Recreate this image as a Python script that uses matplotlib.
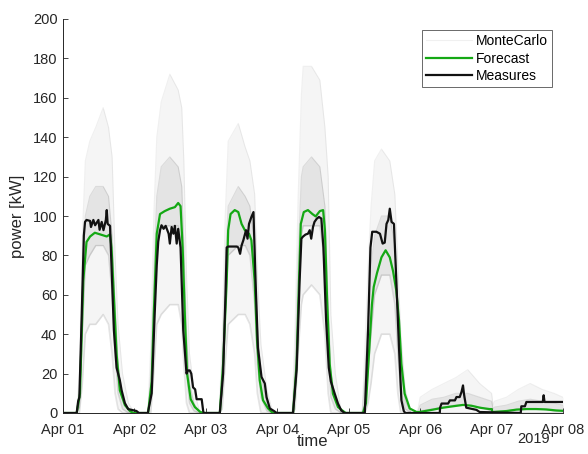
import numpy as np
import pandas as pd
import matplotlib
matplotlib.use('Agg')
import matplotlib.pyplot as plt
import matplotlib.dates as mdates

plt.rcParams['font.family'] = ['Liberation Sans', 'DejaVu Sans']
plt.rcParams['font.size'] = 10

start = pd.Timestamp('2019-04-01')

# forecast (hours since Apr 01 00:00, kW)
fc_hours = [0, 4.6, 5.7, 6.8, 7.9, 9.1, 10.7, 12.4, 14.7, 15.8, 16.3, 17.1, 18.0, 19.1, 20.8, 22.5, 23.6,
            28.6, 29.8, 30.5, 31.5, 32.6, 34.2, 35.9, 37.6, 38.7, 39.5, 40.2, 41.0, 41.7, 42.9, 44.3, 46.0, 47,
            52.7, 53.8, 55.0, 55.5, 56.3, 57.7, 58.9, 60.0, 61.1, 62.5, 63.3, 64.4, 65.2, 66.1, 67.2, 68.9, 70.5,
            77.3, 78.5, 79.3, 79.9, 80.9, 82.3, 83.8, 84.9, 86.3, 87.4, 88.0, 88.7, 89.6, 90.7, 92.4, 94.1, 95,
            100.8, 101.8, 102.8, 103.8, 104.4, 105.5, 107.0, 108.4, 109.8, 110.9, 112.0, 112.9, 113.7, 114.8,
            116.5, 118.8, 119.8,
            124.3, 127.7, 131.0, 134.4, 137.2, 140.0, 143.3, 144.0, 144.3, 149.0, 152.3, 155.7, 159.0, 162.4,
            165.7, 168]
fc_kw = [0, 0, 9.8, 67, 86.8, 89.6, 91.5, 90.7, 89.6, 90.7, 84, 58.9, 30, 11.5, 4, 1, 0,
         0, 16, 50, 91, 101, 102.5, 103.7, 104.5, 106.6, 105, 84, 47, 20, 7, 3, 0.7, 0,
         0, 25, 67, 92.8, 101, 103, 102, 96, 92.8, 91, 87.7, 67, 37, 16.6, 6.5, 2.3, 0,
         0, 25, 67, 96, 102, 103, 101, 99.8, 102.5, 103, 92.8, 59, 25, 9.8, 3, 1, 0,
         0, 5, 30, 55, 64, 71, 79, 82.6, 79, 72, 62, 47, 25, 9.8,
         2.3, 0.5, 0.5,
         1.7, 2.7, 3.4, 4.1, 3.7, 2.7, 2, 2, 0.5, 1, 1.7, 2, 2, 1.8,
         1.3, 1.1]

# measures
ms_hours = [0, 4.6, 5.1, 5.5, 6.3, 7.0, 7.4, 7.9, 9.1, 9.4, 10.2, 10.8, 11.9, 12.3, 13.0, 13.6, 14.4, 14.7,
            15.0, 15.8, 16.3, 17.1, 18.0, 19.1, 19.7, 20.8, 21.9, 24.7, 25.5,
            28.5, 29.8, 30.8, 31.5, 32.0, 32.6, 33.1, 33.8, 34.5, 35.5, 35.9, 36.5, 37.1, 37.6, 38.2, 38.7,
            39.5, 40.4, 41.5, 42.0, 42.6, 43.1, 43.7, 44.4, 44.9, 46.6, 47.1, 47.3,
            52.7, 53.8, 54.6, 55.0, 55.5, 58.4, 58.9, 59.5, 60.0, 60.6, 61.5, 62.0, 62.5, 63.3, 64.0, 64.7,
            65.5, 66.7, 67.8, 68.4, 69.5, 70.9, 71.8,
            77.3, 78.5, 79.5, 80.1, 80.6, 81.5, 82.3, 82.9, 83.4, 84.0, 84.5, 85.3, 86.0, 86.8, 87.5, 88.4,
            89.3, 90.0, 91.3, 92.4, 93.5, 94.6,
            101.4, 102.5, 103.3, 103.9, 105.3, 106.5, 107.4, 108.1, 108.7, 109.3, 109.8, 110.4, 111.2, 112.0,
            112.9, 113.7, 114.5, 115,
            126.6, 126.7, 127.2, 129.4, 130.0, 131.7, 132.2, 133.3, 133.9, 134.4, 134.7, 134.9, 135.5, 138.9,
            140.0, 153.8, 154.0, 155.2, 155.7, 161.2, 161.5, 161.8, 168]
ms_kw = [0, 0, 6, 8, 50, 90, 97, 98, 97.5, 94.4, 98, 95.3, 98, 93, 97, 92.8, 98, 103,
         96, 95, 75, 42, 23, 16.6, 11.5, 5, 2, 1, 0,
         0, 10, 50, 75, 87, 92.8, 95.3, 93.5, 95, 91, 86, 94.4, 91, 95, 86, 93.5,
         84, 42, 20, 21.6, 21.6, 20, 13, 12, 7, 7, 1, 0,
         0, 20, 60, 84, 84.5, 84.5, 84, 80.8, 85, 87.7, 92.8, 88.5, 96, 99.5, 102, 67,
         33, 18.3, 15, 8, 2.3, 1, 0,
         0, 22, 67, 88.5, 89.5, 90.6, 91, 92.8, 88.5, 94.4, 97, 98.7, 99.5, 98.7, 84, 47,
         23, 16, 9.8, 4.8, 1.3, 0,
         0, 42, 84, 92, 92, 91, 86, 86.5, 96, 98, 103.7, 97, 96, 67,
         33, 6.5, 1, 0,
         0, 2.7, 4.8, 4.8, 6.4, 6.4, 8.1, 8.1, 10.7, 14, 10, 8, 2.7, 1.6,
         0.5, 0, 3.4, 3.4, 5.6, 5.6, 9, 5.6, 5.6]

# monte carlo spread (envelope and inner band)
mc_hours = [0, 4.5, 5.5, 6.5, 7.5, 9, 11, 13.5, 15.3, 16.5, 17.5, 18.5, 20, 22, 24,
            28.5, 29.5, 30.5, 31.5, 33, 35.9, 38.7, 39.9, 40.6, 41.5, 42.5, 44, 46,
            52.5, 53.5, 54.5, 55.5, 58.9, 61.2, 62.8, 64.4, 65.3, 66.5, 68.5, 70.5,
            77, 78, 79, 80.1, 80.7, 83.5, 86.3, 88.0, 89.1, 90, 91.5, 93.5,
            100.5, 101.5, 102.5, 103.5, 104.7, 107, 109.8, 111.5, 112.5, 113.5, 115, 117,
            119, 120, 124, 128, 132, 136, 140, 144, 144.5, 145, 149, 153, 157, 161, 165, 168]
mc_low = [0, 0, 0, 15, 40, 45, 45, 50, 45, 30, 10, 2, 0, 0, 0,
          0, 0, 20, 45, 50, 55, 55, 45, 25, 5, 0, 0, 0,
          0, 2, 25, 45, 50, 50, 45, 30, 10, 0, 0, 0,
          0, 2, 30, 55, 60, 65, 60, 40, 10, 0, 0, 0,
          0, 0, 5, 15, 30, 40, 40, 30, 10, 0, 0, 0,
          0, 0, 0, 0, 0, 0, 0, 0, 0, 0, 0, 0, 0, 0, 0, 0]
mc_q1 = [0, 0, 3, 40, 75, 80, 85, 85, 80, 60, 30, 10, 2, 0, 0,
         0, 8, 45, 85, 95, 95, 95, 85, 55, 20, 5, 1, 0,
         0, 10, 50, 80, 85, 85, 80, 55, 25, 8, 1, 0,
         0, 10, 55, 90, 95, 95, 95, 75, 30, 8, 2, 0,
         0, 5, 20, 40, 60, 70, 70, 55, 30, 10, 2, 0,
         0, 1, 2, 3, 4, 4, 3, 1, 0, 0, 1, 2, 2, 2, 1, 1]
mc_q3 = [0, 0, 10, 65, 100, 110, 115, 115, 110, 90, 55, 25, 8, 1, 0,
         0, 20, 70, 110, 125, 130, 125, 115, 85, 40, 15, 5, 0,
         0, 25, 75, 105, 115, 110, 105, 85, 45, 20, 5, 0,
         0, 25, 80, 120, 125, 130, 125, 105, 55, 20, 8, 0,
         0, 20, 50, 75, 90, 100, 100, 85, 55, 25, 6, 0,
         0, 4, 7, 8, 10, 10, 8, 6, 2, 3, 4, 6, 7, 6, 5, 4]
mc_high = [0, 0, 20, 90, 128, 138, 145, 155, 145, 130, 80, 45, 20, 5, 0,
           0, 35, 100, 140, 158, 172, 164, 155, 128, 70, 30, 12, 0,
           0, 40, 100, 138, 147, 135, 128, 111, 70, 35, 12, 0,
           0, 45, 110, 162, 176, 176, 169, 145, 120, 50, 20, 0,
           0, 35, 75, 105, 128, 134, 128, 111, 75, 40, 12, 0,
           0, 8, 12, 15, 18, 22, 15, 10, 4, 6, 8, 12, 15, 12, 10, 8]

day_ticks = pd.date_range('2019-04-01', '2019-04-08', freq='D')


def to_time(hours):
    return start + pd.to_timedelta(hours, unit='h')


fig = plt.figure(figsize=(5.88, 4.54), dpi=100)
ax = fig.add_axes([63 / 588, 1 - 413 / 454, 500 / 588, 394 / 454])

t_mc = to_time(mc_hours)
ax.fill_between(t_mc, mc_low, mc_high, color='#f5f5f5', lw=0)
ax.fill_between(t_mc, mc_q1, mc_q3, color='#e4e4e4', lw=0)
ax.plot(t_mc, mc_high, color='k', alpha=0.06, lw=0.8, label='MonteCarlo')
ax.plot(t_mc, mc_q3, color='k', alpha=0.10, lw=0.8)
ax.plot(t_mc, mc_q1, color='k', alpha=0.12, lw=1.0)
ax.plot(t_mc, mc_low, color='k', alpha=0.10, lw=1.2)

ax.plot(to_time(fc_hours), fc_kw, color='#14a814', lw=1.6, label='Forecast')
ax.plot(to_time(ms_hours), ms_kw, color='#111111', lw=1.6, label='Measures')

ax.set_xlim(day_ticks[0], day_ticks[-1])
ax.set_ylim(0, 200)
ax.set_yticks(np.arange(0, 201, 20))
ax.set_xticks(day_ticks)
ax.xaxis.set_major_formatter(mdates.DateFormatter('%b %d'))

for s in ['top', 'right']:
    ax.spines[s].set_visible(False)
for s in ['left', 'bottom']:
    ax.spines[s].set_color('#262626')
    ax.spines[s].set_linewidth(0.7)
ax.tick_params(direction='in', length=3.5, width=0.6, colors='#262626', labelsize=10.5)
ax.tick_params(axis='x', pad=7)
ax.tick_params(axis='y', pad=4)

ax.set_xlabel('time', fontsize=12, color='#262626', va='center')
ax.xaxis.set_label_coords(0.5, -0.072)
ax.set_ylabel('power [kW]', fontsize=12, color='#262626', va='center')
ax.yaxis.set_label_coords(-0.092, 0.5)
fig.text(533.5 / 588, 1 - 439 / 454, '2019', fontsize=10.5, color='#262626', ha='center', va='center')

leg = ax.legend(loc='upper right', bbox_to_anchor=(0.978, 0.972), borderaxespad=0,
                fancybox=False, handlelength=3.3, handletextpad=0.3, labelspacing=0.25,
                borderpad=0.3, fontsize=10)
leg.get_frame().set_edgecolor('#262626')
leg.get_frame().set_linewidth(0.6)
for line in leg.get_lines()[1:]:
    line.set_linewidth(1.6)

fig.savefig('out.png', dpi=100)
